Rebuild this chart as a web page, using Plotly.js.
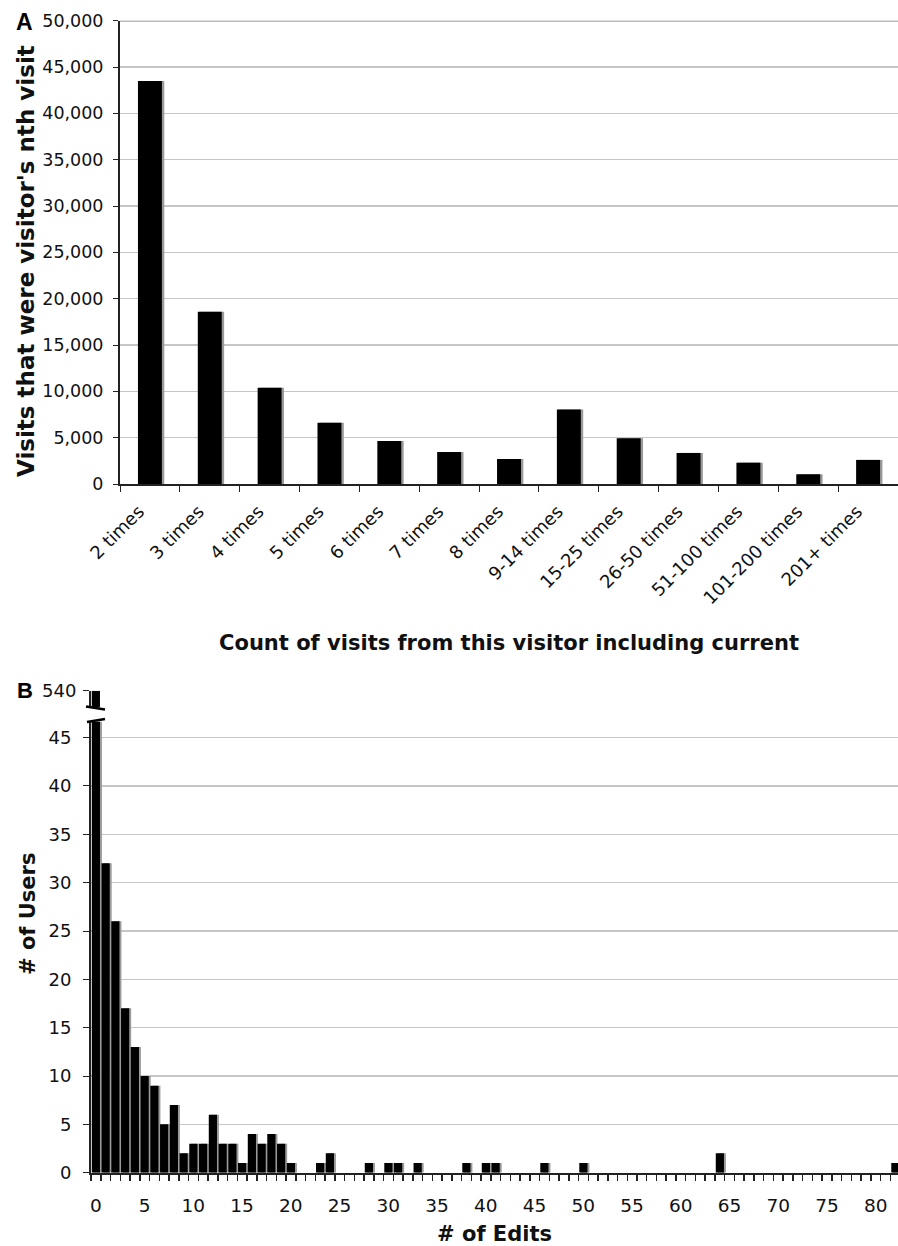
<!DOCTYPE html>
<html>
<head>
<meta charset="utf-8">
<script src="https://cdn.plot.ly/plotly-3.0.1.min.js"></script>
<style>html,body{margin:0;padding:0;background:#fff;}</style>
</head>
<body>
<div id="chart" style="width:898px;height:1246px;"></div>
<script>
// ---- Panel A data ----
const visitCategories = ["2 times","3 times","4 times","5 times","6 times","7 times","8 times","9-14 times","15-25 times","26-50 times","51-100 times","101-200 times","201+ times"];
const visitCounts = [43500, 18600, 10400, 6600, 4650, 3450, 2700, 8050, 4950, 3350, 2300, 1050, 2600];

// ---- Panel B data ----
const editCounts = [0,1,2,3,4,5,6,7,8,9,10,11,12,13,14,15,16,17,18,19,20,23,24,28,30,31,33,38,40,41,46,50,64,82];
const userCounts = [540,32,26,17,13,10,9,5,7,2,3,3,6,3,3,1,4,3,4,3,1,1,2,1,1,1,1,1,1,1,1,1,2,1];

// ---- Text ----
const titleA_x = "Count of visits from this visitor including current";
const titleA_y = "Visits that were visitor's nth visit";
const titleB_x = "# of Edits";
const titleB_y = "# of Users";

const W = 898, H = 1246;
const fx = p => p / W;
const fy = p => (H - p) / H;
const FONT = "DejaVu Sans, Verdana, sans-serif";
const INK = "#111";

const traces = [
  // Panel A shadow + bars
  {type:"bar", x:visitCategories, y:visitCounts, xaxis:"x", yaxis:"y",
   width:0.4, offset:-0.2+0.04, marker:{color:"#9a9a9a", line:{width:0}},
   hoverinfo:"skip", showlegend:false},
  {type:"bar", x:visitCategories, y:visitCounts, xaxis:"x", yaxis:"y",
   width:0.4, offset:-0.2, marker:{color:"#000", line:{width:0}},
   name:"Visits", showlegend:false},
  // Panel B lower part (shadow + bars)
  {type:"bar", x:editCounts, y:userCounts, xaxis:"x2", yaxis:"y2",
   width:0.84, offset:-0.42+0.2, marker:{color:"#9a9a9a", line:{width:0}},
   hoverinfo:"skip", showlegend:false},
  {type:"bar", x:editCounts, y:userCounts, xaxis:"x2", yaxis:"y2",
   width:0.84, offset:-0.42, marker:{color:"#000", line:{width:0}},
   name:"Users", showlegend:false},
  // Panel B upper (broken-axis) part
  {type:"bar", x:editCounts, y:userCounts, xaxis:"x2", yaxis:"y3",
   width:0.84, offset:-0.42, marker:{color:"#000", line:{width:0}},
   name:"Users (break)", showlegend:false}
];

const tickBase = {ticks:"outside", tickcolor:"#222", showline:true, linecolor:"#222", linewidth:2,
                  zeroline:false, tickfont:{family:FONT, size:17.5, color:INK}};

const layout = {
  width:W, height:H,
  margin:{l:0, r:0, t:0, b:0, pad:0},
  paper_bgcolor:"#fff", plot_bgcolor:"#fff",
  showlegend:false, barmode:"overlay",
  font:{family:FONT, color:INK},
  xaxis:Object.assign({}, tickBase, {
    domain:[fx(120), 1], anchor:"y", type:"category", range:[-0.5, 12.5],
    tickson:"boundaries", ticklen:6, tickangle:-45, showgrid:false,
    ticklabelstandoff:8, ticklabelshift:-11,
    tickfont:{family:FONT, size:18, color:INK},
    title:{text:titleA_x, standoff:28,
           font:{family:FONT, size:21, weight:"bold", color:INK}}
  }),
  yaxis:Object.assign({}, tickBase, {
    domain:[fy(484), fy(20.7)], anchor:"x", range:[0, 50000], dtick:5000, tick0:0,
    tickformat:",d", ticklen:5, ticklabelstandoff:6,
    showgrid:true, gridcolor:"#c6c6c6", gridwidth:1.5
  }),
  xaxis2:Object.assign({}, tickBase, {
    domain:[fx(91), 1], anchor:"y2", range:[-0.5, 82.27],
    tickmode:"linear", tick0:0, dtick:5, ticklen:6, tickcolor:"rgba(0,0,0,0)",
    ticklabelstandoff:9, showgrid:false,
    tickfont:{family:FONT, size:18.5, color:INK},
    minor:{tick0:0.5, dtick:1, ticks:"outside", ticklen:6, tickcolor:"#222", tickwidth:1.5, showgrid:false},
    title:{text:titleB_x, standoff:22,
           font:{family:FONT, size:21, weight:"bold", color:INK}}
  }),
  yaxis2:Object.assign({}, tickBase, {
    domain:[fy(1172.7), fy(721.7)], anchor:"x2", range:[0, 46.65], dtick:5, tick0:0,
    ticklen:6, ticklabelstandoff:8,
    showgrid:true, gridcolor:"#c6c6c6", gridwidth:1.5,
    tickfont:{family:FONT, size:18, color:INK}
  }),
  yaxis3:Object.assign({}, tickBase, {
    domain:[fy(707.3), fy(690.7)], anchor:"x2", range:[538.3, 540],
    tickmode:"array", tickvals:[540], ticktext:["540"],
    ticklen:6, ticklabelstandoff:3,
    showgrid:true, gridcolor:"#8a8a8a", gridwidth:1.5,
    tickfont:{family:FONT, size:18, color:INK}
  }),
  shapes:[
    // darker top boundary line of panel A
    {type:"line", xref:"x domain", yref:"y", x0:0, x1:1, y0:50000, y1:50000,
     line:{color:"#7a7a7a", width:1.5}, layer:"below"},
    // axis-break marks in panel B
    {type:"line", xref:"paper", yref:"paper", x0:fx(86), x1:fx(105), y0:fy(706.5), y1:fy(709.5),
     line:{color:"#000", width:2.5}},
    {type:"line", xref:"paper", yref:"paper", x0:fx(87), x1:fx(105), y0:fy(722), y1:fy(719),
     line:{color:"#000", width:2.5}}
  ],
  annotations:[
    // y-axis titles (placed like the original, off-centre from the plot area)
    {text:"<b>" + titleA_y + "</b>", xref:"paper", yref:"paper", x:fx(26), y:fy(261), textangle:-90,
     showarrow:false, xanchor:"center", yanchor:"middle",
     font:{family:FONT, size:23, color:INK}},
    {text:"<b>" + titleB_y + "</b>", xref:"paper", yref:"paper", x:fx(28), y:fy(914), textangle:-90,
     showarrow:false, xanchor:"center", yanchor:"middle",
     font:{family:FONT, size:21, color:INK}},
    // panel letters
    {text:"<b>A</b>", xref:"paper", yref:"paper", x:fx(24), y:fy(22), showarrow:false,
     xanchor:"center", yanchor:"middle", font:{family:"Liberation Sans, Arial, sans-serif", size:23, color:"#000"}},
    {text:"<b>B</b>", xref:"paper", yref:"paper", x:fx(25), y:fy(690), showarrow:false,
     xanchor:"center", yanchor:"middle", font:{family:"Liberation Sans, Arial, sans-serif", size:22, color:"#000"}}
  ]
};

Plotly.newPlot("chart", traces, layout, {displayModeBar:false, staticPlot:true});
</script>
</body>
</html>
